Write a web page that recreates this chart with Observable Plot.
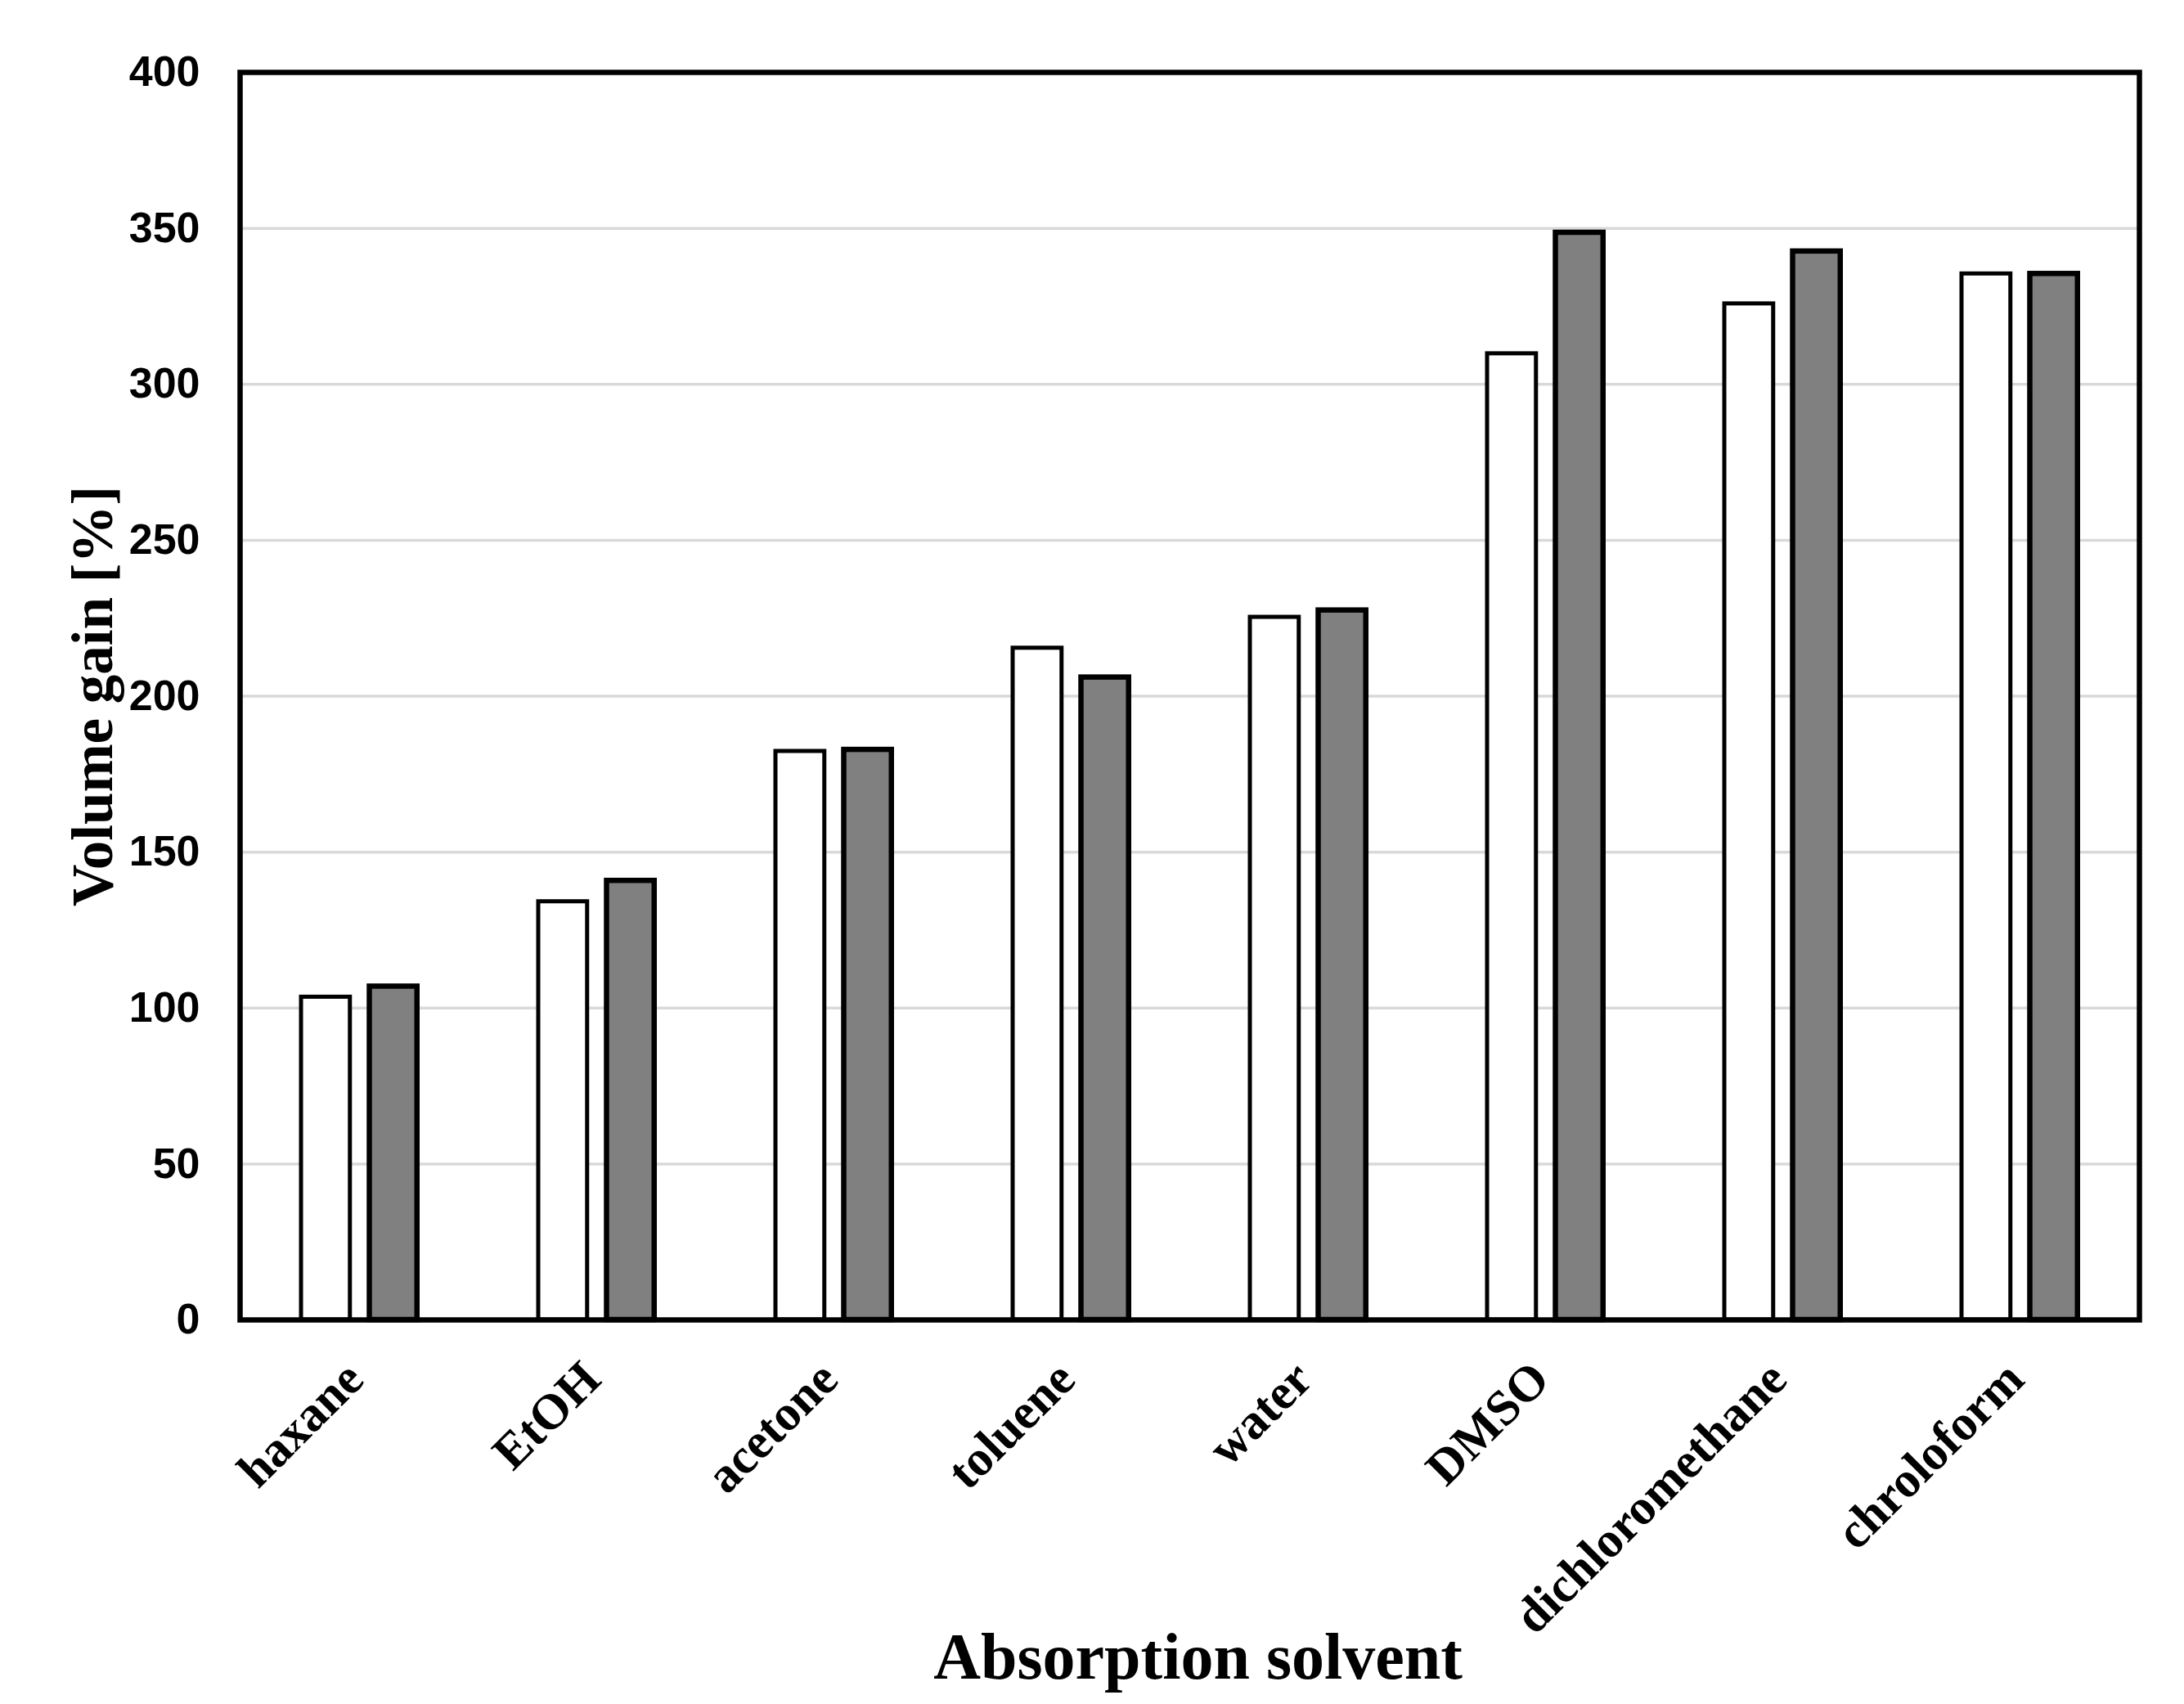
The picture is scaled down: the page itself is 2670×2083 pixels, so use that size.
<!DOCTYPE html>
<html>
<head>
<meta charset="utf-8">
<script src="https://cdn.jsdelivr.net/npm/d3@7"></script>
<script src="https://cdn.jsdelivr.net/npm/@observablehq/plot@0.6"></script>
<style>
  html, body { margin: 0; padding: 0; background: white; }
  #chart svg { display: block; }
</style>
</head>
<body>
<div id="chart"></div>
<script>
// ---- data ----
const solvents = ["haxane", "EtOH", "acetone", "toluene", "water", "DMSO", "dichloromethane", "chroloform"];
const seriesWhite = [103.5, 134.1, 182.3, 215.4, 225.3, 309.8, 325.8, 335.4];
const seriesGray  = [106.9, 140.8, 182.8, 206.0, 227.5, 348.6, 342.6, 335.4];
const yTicks = [0, 50, 100, 150, 200, 250, 300, 350, 400];
const yTitle = "Volume gain [%]";
const xTitle = "Absorption solvent";

const table = solvents.map((s, i) => ({solvent: s, white: seriesWhite[i], gray: seriesGray[i]}));

const serif = "'Liberation Serif', 'Times New Roman', serif";
const sans = "'Liberation Sans', Arial, sans-serif";

const chart = Plot.plot({
  width: 2670,
  height: 2083,
  marginLeft: 293,
  marginRight: 55,
  marginTop: 88,
  marginBottom: 470,
  style: {background: "white"},
  x: {domain: solvents, padding: 0, label: null},
  y: {domain: [0, 400], label: null},
  marks: [
    Plot.gridY(yTicks.slice(1, -1), {stroke: "#d9d9d9", strokeOpacity: 1, strokeWidth: 3.5}),
    Plot.barY(table, {x: "solvent", y: "white", fill: "white", stroke: "black", strokeWidth: 5, insetLeft: 74, insetRight: 156.25}),
    Plot.barY(table, {x: "solvent", y: "gray", fill: "#808080", stroke: "black", strokeWidth: 6.5, insetLeft: 157.5, insetRight: 74.25}),
    Plot.frame({stroke: "black", strokeWidth: 6.5}),
    Plot.axisY({ticks: yTicks, tickSize: 0, tickPadding: 49, fontSize: 52, fontFamily: sans, fontWeight: "bold", fill: "black", label: null}),
    Plot.axisX({tickSize: 0, tickPadding: 62, tickRotate: -45, textAnchor: "end", lineAnchor: "middle", dx: -6, fontSize: 61, fontFamily: serif, fontWeight: "bold", fill: "black", label: null}),
    Plot.text([yTitle], {frameAnchor: "left", textAnchor: "middle", rotate: -90, dx: -207, lineAnchor: "top", fontSize: 71, fontFamily: serif, fontWeight: "bold", fill: "black"}),
    Plot.text([xTitle], {frameAnchor: "bottom", textAnchor: "middle", dy: 438, dx: 10, lineAnchor: "bottom", fontSize: 80, fontFamily: serif, fontWeight: "bold", fill: "black"})
  ]
});
document.getElementById("chart").appendChild(chart);
</script>
</body>
</html>
